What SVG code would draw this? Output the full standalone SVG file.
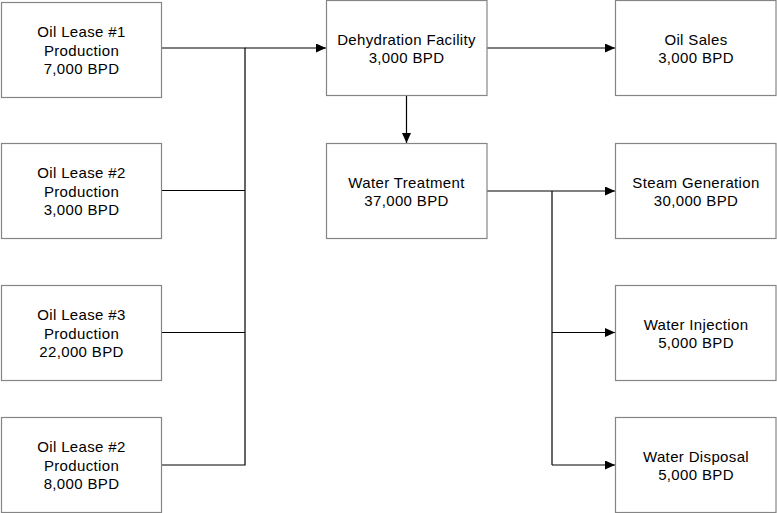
<svg xmlns="http://www.w3.org/2000/svg" width="777" height="513" viewBox="0 0 777 513">
<style>
.box{fill:#fff;stroke:#858585;stroke-width:1.2}
.t{font-family:"Liberation Sans",Arial,sans-serif;font-size:15px;letter-spacing:0.35px;fill:#000;text-anchor:middle}
.c{fill:none;stroke:#000;stroke-width:1.2}
</style>
<defs>
<marker id="ah" markerUnits="userSpaceOnUse" markerWidth="11" markerHeight="9" refX="10" refY="4.5" orient="auto">
<path d="M0,0 L10,4.5 L0,9 Z" fill="#000"/>
</marker>
</defs>
<rect width="777" height="513" fill="#fff"/>
<g id="connectors">
<path class="c" d="M161.5,48 H245 V465 H161.5"/>
<path class="c" d="M161.5,190.5 H245"/>
<path class="c" d="M161.5,332.5 H245"/>
<path class="c" d="M245,48 H326" marker-end="url(#ah)"/>
<path class="c" d="M487,48 H615" marker-end="url(#ah)"/>
<path class="c" d="M406.5,95.5 V143" marker-end="url(#ah)"/>
<path class="c" d="M487,191 H615" marker-end="url(#ah)"/>
<path class="c" d="M552,191 V465"/>
<path class="c" d="M552,332.5 H615" marker-end="url(#ah)"/>
<path class="c" d="M552,465 H615" marker-end="url(#ah)"/>
</g>
<g id="lease1"><rect class="box" x="1.5" y="2.5" width="160" height="95"/>
<text class="t" x="81.5" y="37">Oil Lease #1</text><text class="t" x="81.5" y="55.5">Production</text><text class="t" x="81.5" y="74">7,000 BPD</text></g>
<g id="lease2"><rect class="box" x="1.5" y="143.5" width="160" height="95"/>
<text class="t" x="81.5" y="178">Oil Lease #2</text><text class="t" x="81.5" y="196.5">Production</text><text class="t" x="81.5" y="215">3,000 BPD</text></g>
<g id="lease3"><rect class="box" x="1.5" y="285.5" width="160" height="95"/>
<text class="t" x="81.5" y="320">Oil Lease #3</text><text class="t" x="81.5" y="338.5">Production</text><text class="t" x="81.5" y="357">22,000 BPD</text></g>
<g id="lease4"><rect class="box" x="1.5" y="417.5" width="160" height="95"/>
<text class="t" x="81.5" y="452">Oil Lease #2</text><text class="t" x="81.5" y="470.5">Production</text><text class="t" x="81.5" y="489">8,000 BPD</text></g>
<g id="dehydration"><rect class="box" x="326.5" y="0.5" width="160.5" height="95"/>
<text class="t" x="406.5" y="45">Dehydration Facility</text><text class="t" x="406.5" y="63">3,000 BPD</text></g>
<g id="water-treatment"><rect class="box" x="326.5" y="143.5" width="160.5" height="95"/>
<text class="t" x="406.5" y="188">Water Treatment</text><text class="t" x="406.5" y="206">37,000 BPD</text></g>
<g id="oil-sales"><rect class="box" x="615.5" y="0.5" width="160.5" height="95"/>
<text class="t" x="696" y="45">Oil Sales</text><text class="t" x="696" y="63">3,000 BPD</text></g>
<g id="steam"><rect class="box" x="615.5" y="143.5" width="160.5" height="95"/>
<text class="t" x="696" y="188">Steam Generation</text><text class="t" x="696" y="206">30,000 BPD</text></g>
<g id="injection"><rect class="box" x="615.5" y="285.5" width="160.5" height="95"/>
<text class="t" x="696" y="330">Water Injection</text><text class="t" x="696" y="348">5,000 BPD</text></g>
<g id="disposal"><rect class="box" x="615.5" y="417.5" width="160.5" height="95"/>
<text class="t" x="696" y="462">Water Disposal</text><text class="t" x="696" y="480">5,000 BPD</text></g>
</svg>
